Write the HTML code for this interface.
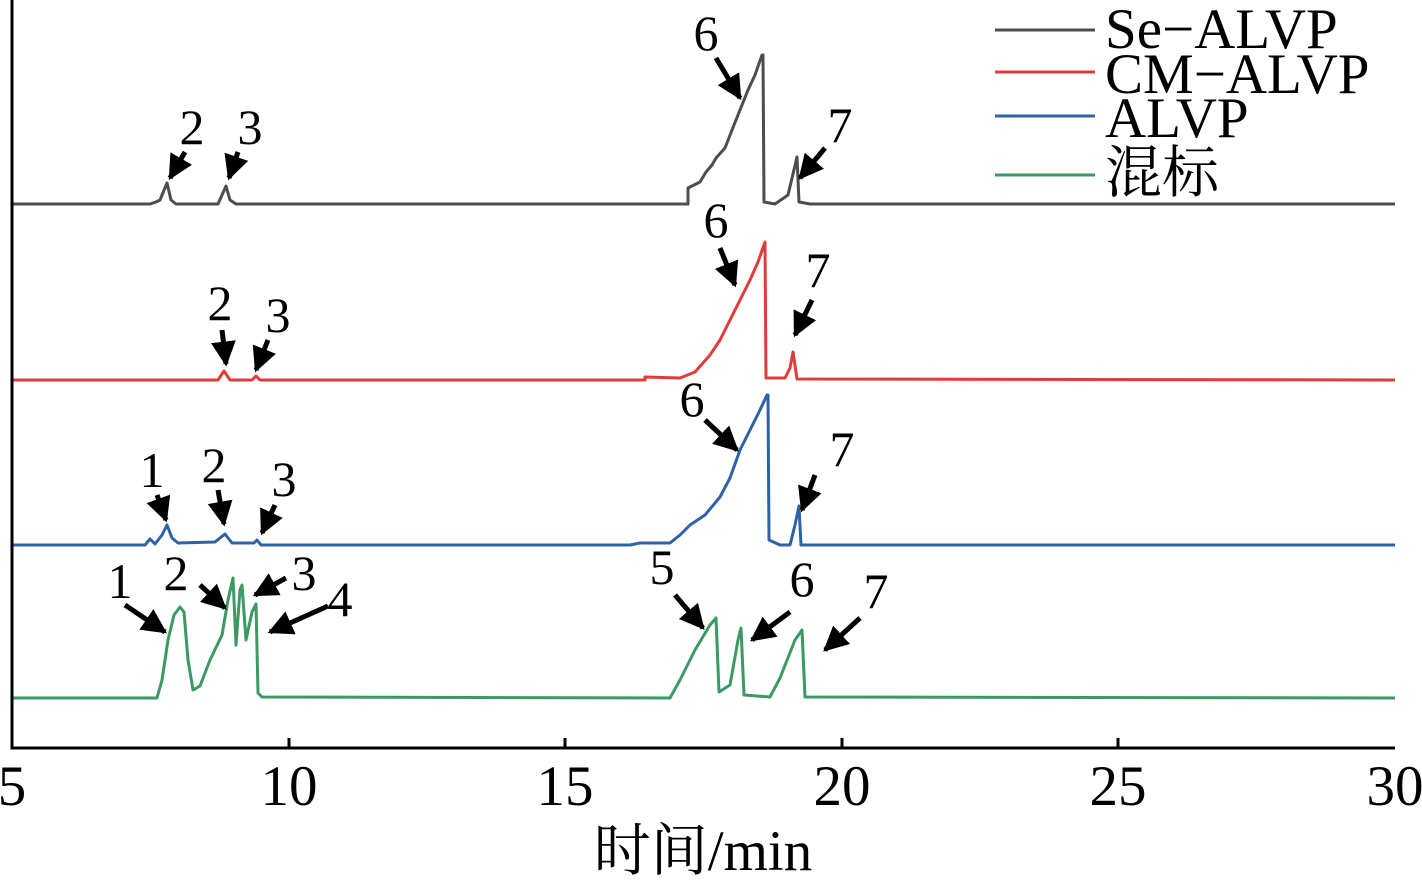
<!DOCTYPE html><html><head><style>body{margin:0;background:#fff}svg{display:block}text{font-family:"Liberation Serif","Noto Serif CJK SC",serif;font-size:50px;fill:#000}.b{font-size:57px}</style></head><body>
<svg width="1422" height="880" viewBox="0 0 1422 880">
<defs><marker id="a" viewBox="0 0 10 10" refX="9" refY="5" markerWidth="5" markerHeight="5" orient="auto"><path d="M0,0L10,5L0,10z" fill="#000"/></marker></defs>
<g fill="none" stroke-width="3" stroke-linejoin="round">
<polyline stroke="#4d4d4d" points="12,204 150,204 156,202 160,200 167,183 171,200 176,204 218,204 222,195 226,186 230,200 236,204 688,204 688,188 700,182 706,172 712,165 716,158 725,148 732,130 740,110 748,90 755,75 762,55 763,55 764,202 775,204 788,195 797,157 799,202 810,204 1395,204"/>
<polyline stroke="#e03c3c" points="12,380 218,380 224,371 230,380 252,380 256,376 260,380 645,380 645,377 680,378 695,372 710,355 720,340 730,320 740,300 750,280 758,262 765,242 766,378 785,378 790,368 793,352 797,379 1395,380"/>
<polyline stroke="#2d62a8" points="12,545 145,545 150,539 155,544 162,535 167,525 172,538 178,543 215,542 225,534 232,543 254,543 257,540 261,545 630,545 640,543 670,543 680,535 690,525 705,515 720,497 730,478 740,450 750,430 760,410 767,395 768,395 769,540 780,545 790,545 795,525 799,506 801,545 1395,545"/>
<polyline stroke="#3a9a62" points="12,698 157,698 162,680 168,640 174,615 180,607 184,612 188,660 193,690 200,686 210,660 222,635 228,600 233,578 236,645 240,590 242,585 246,640 252,612 256,604 258,693 262,697 670,698 680,680 695,650 710,625 716,618 719,692 730,685 738,640 741,628 744,695 770,697 780,678 795,640 802,630 805,697 1395,698"/>
</g>
<g stroke="#000" stroke-width="3" fill="none">
<path d="M12,0V748H1395"/>
<path d="M289,748v-10M565,748v-10M842,748v-10M1118,748v-10"/>
</g>
<g stroke="#000" stroke-width="5" marker-end="url(#a)">
<line x1="185" y1="152" x2="170" y2="178"/><line x1="238" y1="152" x2="229" y2="178"/>
<line x1="716" y1="58" x2="740" y2="98"/><line x1="825" y1="148" x2="800" y2="178"/>
<line x1="222" y1="330" x2="226" y2="364"/><line x1="268" y1="340" x2="256" y2="370"/>
<line x1="720" y1="248" x2="735" y2="285"/><line x1="812" y1="300" x2="795" y2="335"/>
<line x1="157" y1="495" x2="166" y2="520"/><line x1="218" y1="490" x2="224" y2="524"/>
<line x1="275" y1="505" x2="262" y2="533"/><line x1="705" y1="420" x2="737" y2="450"/>
<line x1="815" y1="475" x2="802" y2="510"/>
<line x1="125" y1="605" x2="165" y2="632"/><line x1="200" y1="585" x2="225" y2="608"/>
<line x1="286" y1="578" x2="255" y2="595"/><line x1="328" y1="606" x2="270" y2="632"/>
<line x1="675" y1="595" x2="703" y2="628"/><line x1="790" y1="612" x2="752" y2="640"/>
<line x1="860" y1="618" x2="825" y2="650"/>
</g>
<g text-anchor="middle">
<text x="192" y="144">2</text><text x="250" y="144">3</text><text x="706" y="50">6</text><text x="840" y="142">7</text>
<text x="220" y="320">2</text><text x="278" y="332">3</text><text x="716" y="237">6</text><text x="818" y="287">7</text>
<text x="152" y="487">1</text><text x="214" y="482">2</text><text x="284" y="496">3</text><text x="692" y="416">6</text><text x="842" y="466">7</text>
<text x="120" y="598">1</text><text x="176" y="590">2</text><text x="304" y="590">3</text><text x="340" y="616">4</text>
<text x="662" y="584">5</text><text x="802" y="596">6</text><text x="876" y="608">7</text>
<g class="b"><text x="12" y="805" class="b">5</text><text x="289" y="805" class="b">10</text><text x="565" y="805" class="b">15</text><text x="842" y="805" class="b">20</text><text x="1118" y="805" class="b">25</text><text x="1395" y="805" class="b">30</text>
<text x="703" y="870" class="b">时间/min</text></g>
</g>
<g stroke-width="3">
<line x1="995" y1="30" x2="1095" y2="30" stroke="#4d4d4d"/>
<line x1="995" y1="72" x2="1095" y2="72" stroke="#e03c3c"/>
<line x1="995" y1="116" x2="1095" y2="116" stroke="#2d62a8"/>
<line x1="995" y1="175" x2="1095" y2="175" stroke="#3a9a62"/>
</g>
<text x="1105" y="48" class="b">Se−ALVP</text>
<text x="1105" y="93" class="b">CM−ALVP</text>
<text x="1105" y="137" class="b">ALVP</text>
<text x="1105" y="192" class="b">混标</text>
</svg></body></html>
